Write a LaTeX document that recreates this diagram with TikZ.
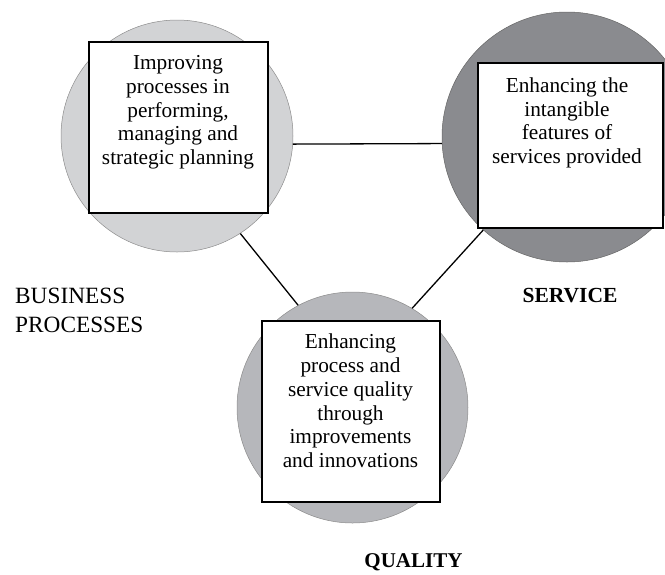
\documentclass[tikz,border=0pt]{standalone}
\usepackage{fontspec}
\setmainfont{Liberation Serif}
\begin{document}
\begin{tikzpicture}[x=1pt,y=-1pt,
  disc/.style={circle,inner sep=0pt,minimum size=#1,draw=black!45,line width=0.5pt},
  card/.style={rectangle,draw=black,line width=1.5pt,fill=white,inner sep=0pt},
  cardtext/.style={anchor=north,align=center,inner sep=0pt,
    font=\fontsize{21.3}{23.7}\selectfont},
  tag/.style={inner sep=0pt,font=\fontsize{21}{28}\selectfont},
  link/.style={draw=black,line width=1.3pt}]
\useasboundingbox (0,0) rectangle (665,574);
\definecolor{discA}{HTML}{D2D3D5}
\definecolor{discB}{HTML}{8A8B8F}
\definecolor{discC}{HTML}{B6B7BB}

% the three discs
\node[disc=232pt,fill=discA] (c1) at (177,136) {};
\node[disc=250pt,fill=discB,draw=black!60] (c2) at (567,137) {};
\node[disc=231pt,fill=discC] (c3) at (352.5,407.5) {};

% connectors between the discs
\draw[link] (c1.-4.4) -- (c2.183.7);
\draw[link] (c1.-57.4) -- (c3.118.3);
\draw[link] (c2.228.6) -- (c3.59.6);

% boxes
\node[card,minimum width=179pt,minimum height=171pt] (b1) at (178.5,127.5) {};
\node[card,minimum width=185pt,minimum height=165pt] (b2) at (570.5,145.5) {};
\node[card,minimum width=178pt,minimum height=181pt] (b3) at (351,411.5) {};

\node[cardtext] (t1) at (178,55.5) {Improving\\processes in\\performing,\\managing and\\strategic planning};
\node[cardtext] (t2) at (567,77.5) {Enhancing the\\intangible\\features of\\services provided};
\node[cardtext] (t3) at (350.5,334) {Enhancing\\process and\\service quality\\through\\improvements\\and innovations};

% area labels
\node[tag,anchor=base west,align=left,font=\fontsize{23.3}{29}\selectfont] (l1) at (15,332) {BUSINESS\\PROCESSES};
\node[tag,anchor=base,font=\bfseries\fontsize{21.5}{28}\selectfont] (l2) at (570,302) {SERVICE};
\node[tag,anchor=base,font=\bfseries\fontsize{21}{28}\selectfont] (l3) at (413.5,567) {QUALITY};
\end{tikzpicture}
\end{document}
